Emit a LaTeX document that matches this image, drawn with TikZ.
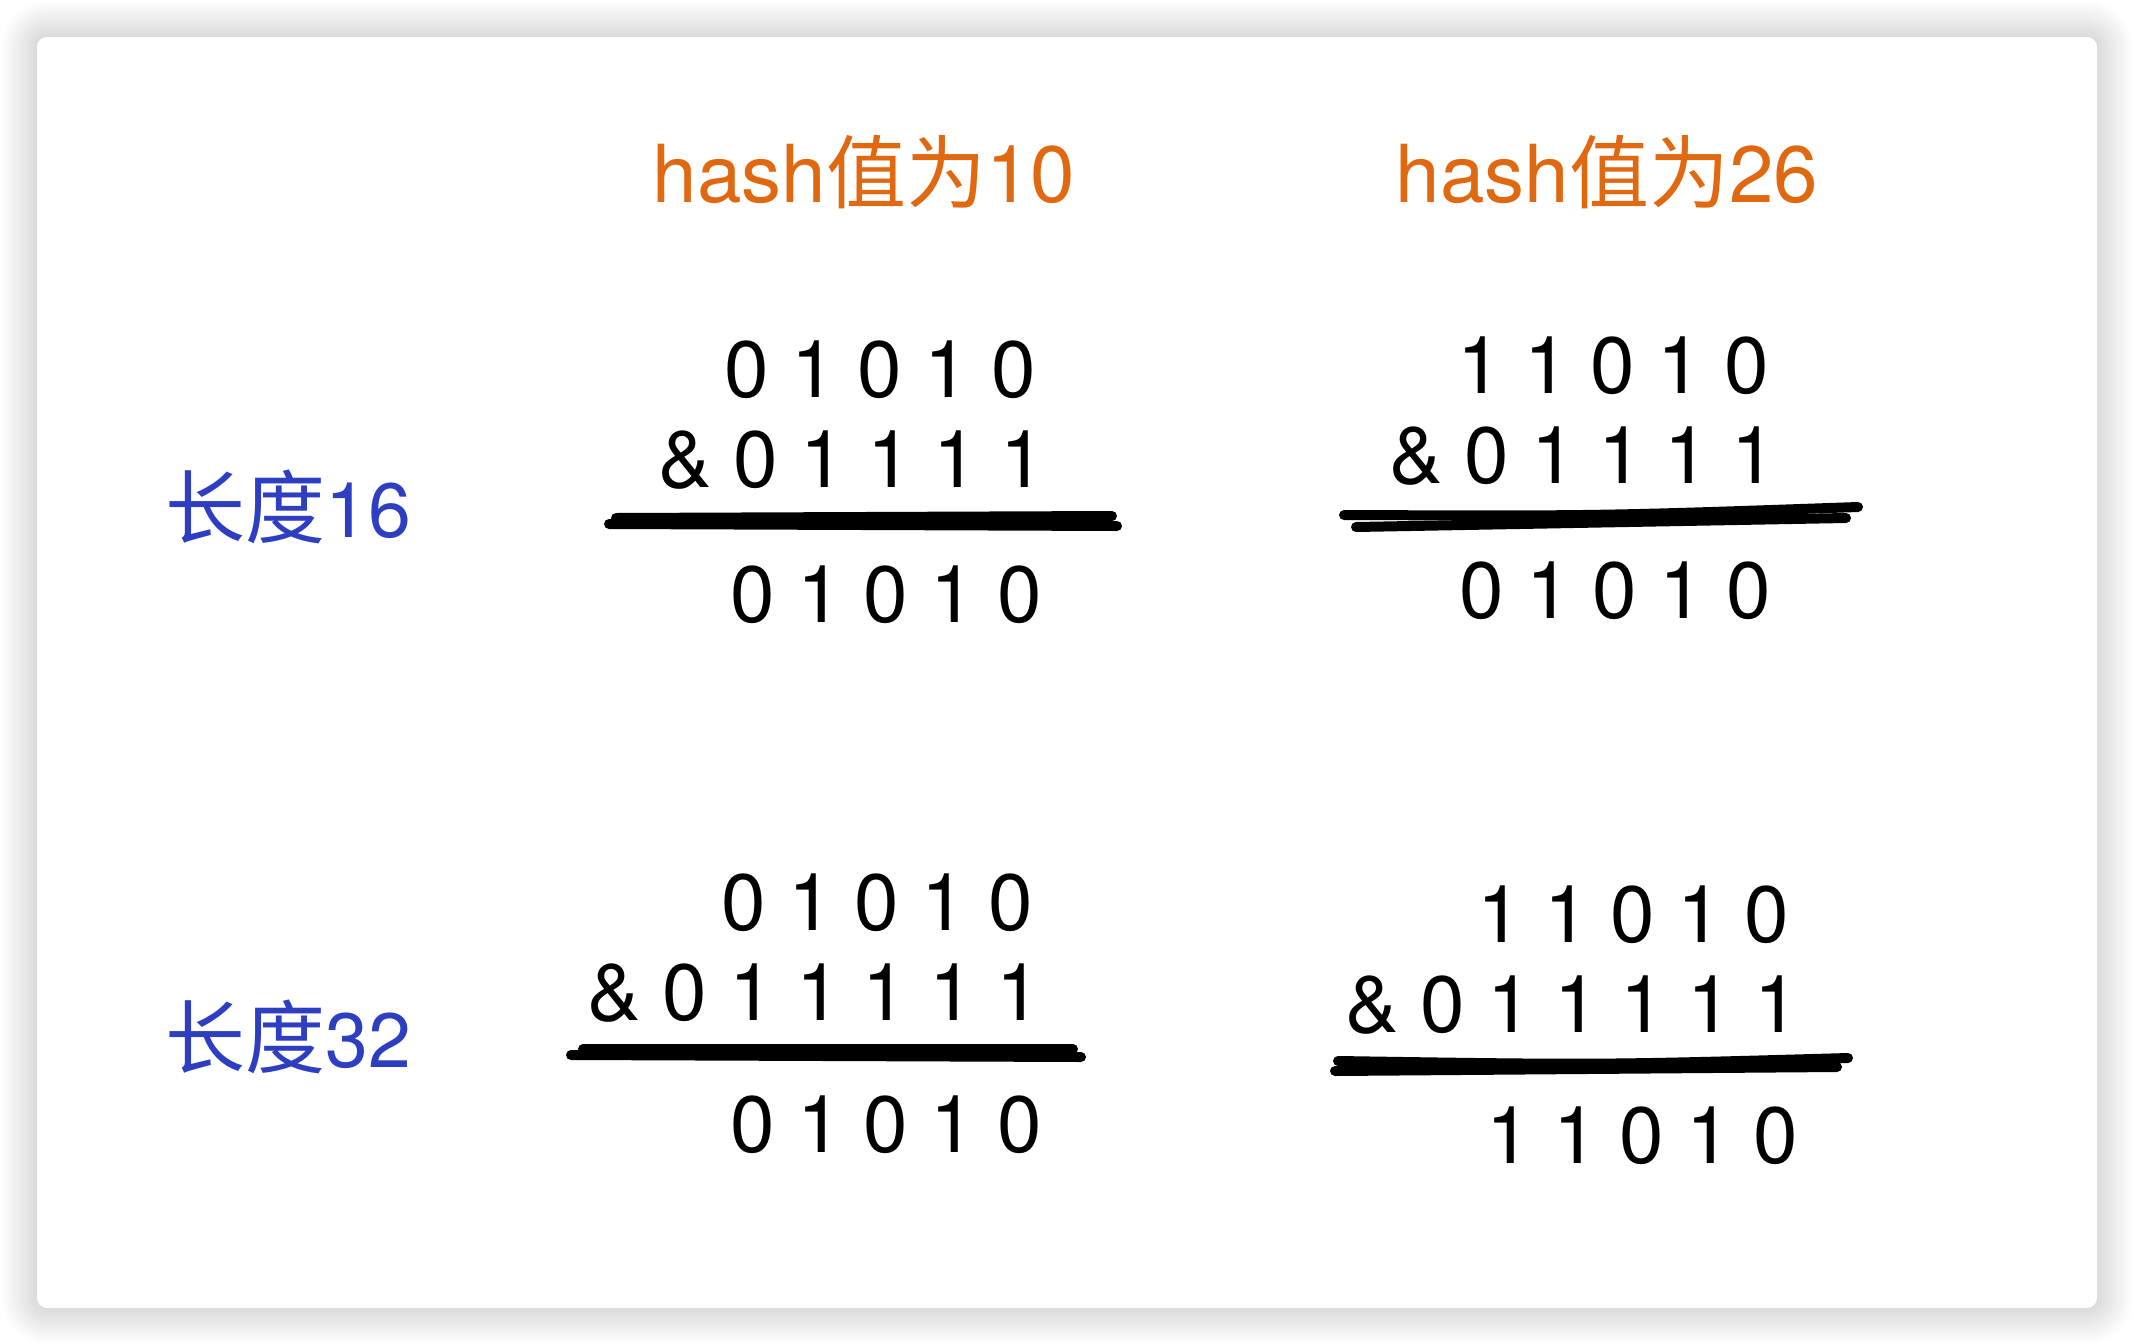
\documentclass[tikz,border=0pt]{standalone}
\usepackage{fontspec}
\setmainfont{TeX Gyre Heros}
\newfontfamily\cjkfont{Noto Sans CJK SC}
\definecolor{hashorange}{RGB}{224,104,16}
\definecolor{lenblue}{RGB}{46,62,192}
\tikzset{
  digits/.style={font=\fontsize{80}{96}\selectfont, inner sep=0pt, text=black},
  header/.style={font=\fontsize{80}{96}\selectfont, inner sep=0pt, text=hashorange},
  lenlabel/.style={font=\fontsize{77}{92}\selectfont, inner sep=0pt, text=lenblue},
  marker/.style={line width=10pt, line cap=round, draw=black},
}
\begin{document}
\begin{tikzpicture}[x=1pt,y=-1pt]
\useasboundingbox (0,0) rectangle (2134,1344);
\fill[white] (0,0) rectangle (2134,1344);
% soft shadow
\foreach \i in {1,...,36}{
  \pgfmathsetmacro\rr{10+\i}
  \fill[black, opacity=0.0058, rounded corners=\rr pt] (37-\i,37-\i) rectangle (2097+\i,1308+\i);
}
% card
\fill[white, rounded corners=10pt] (37,37) rectangle (2097,1308);

% headers
\node[header, anchor=base] (h10) at (864,202) {hash{\cjkfont 值为}10};
\node[header, anchor=base] (h26) at (1607,202) {hash{\cjkfont 值为}26};

% row labels
\node[lenlabel, anchor=base] (len16) at (288,537) {{\cjkfont\fontsize{80}{96}\selectfont 长度}16};
\node[lenlabel, anchor=base] (len32) at (288,1067) {{\cjkfont\fontsize{80}{96}\selectfont 长度}32};

% top-left block
\node[digits, anchor=base east] (tla) at (1036,397) {0 1 0 1 0};
\node[digits, anchor=base west] (tlb) at (658,487) {\& 0 1 1 1 1};
\node[digits, anchor=base east] (tlc) at (1042,622) {0 1 0 1 0};
\coordinate (tl1) at (616,518); \coordinate (tl2) at (1112,516);
\coordinate (tl3) at (609,524); \coordinate (tl4) at (1117,526);
\draw[marker] (tl1) -- (tl2);
\draw[marker] (tl3) -- (tl4);

% top-right block
\node[digits, anchor=base east] (tra) at (1769,393) {1 1 0 1 0};
\node[digits, anchor=base west] (trb) at (1389,483) {\& 0 1 1 1 1};
\node[digits, anchor=base east] (trc) at (1771,618) {0 1 0 1 0};
\coordinate (tr1) at (1344,515); \coordinate (tr2) at (1858,507);
\coordinate (tr3) at (1356,527); \coordinate (tr4) at (1846,518);
\draw[marker] (tr1) .. controls (1600,516) .. (tr2);
\draw[marker] (tr3) -- (tr4);

% bottom-left block
\node[digits, anchor=base east] (bla) at (1033,930) {0 1 0 1 0};
\node[digits, anchor=base west] (blb) at (587,1020) {\& 0 1 1 1 1 1};
\node[digits, anchor=base east] (blc) at (1042,1152) {0 1 0 1 0};
\coordinate (bl1) at (583,1049); \coordinate (bl2) at (1073,1049);
\coordinate (bl3) at (571,1055); \coordinate (bl4) at (1081,1057);
\draw[marker] (bl1) -- (bl2);
\draw[marker] (bl3) -- (bl4);

% bottom-right block
\node[digits, anchor=base east] (bra) at (1789,942) {1 1 0 1 0};
\node[digits, anchor=base west] (brb) at (1345,1032) {\& 0 1 1 1 1 1};
\node[digits, anchor=base east] (brc) at (1798,1163) {1 1 0 1 0};
\coordinate (br1) at (1338,1061); \coordinate (br2) at (1848,1058);
\coordinate (br3) at (1335,1071); \coordinate (br4) at (1837,1067);
\draw[marker] (br1) .. controls (1600,1065) .. (br2);
\draw[marker] (br3) -- (br4);
\end{tikzpicture}
\end{document}
